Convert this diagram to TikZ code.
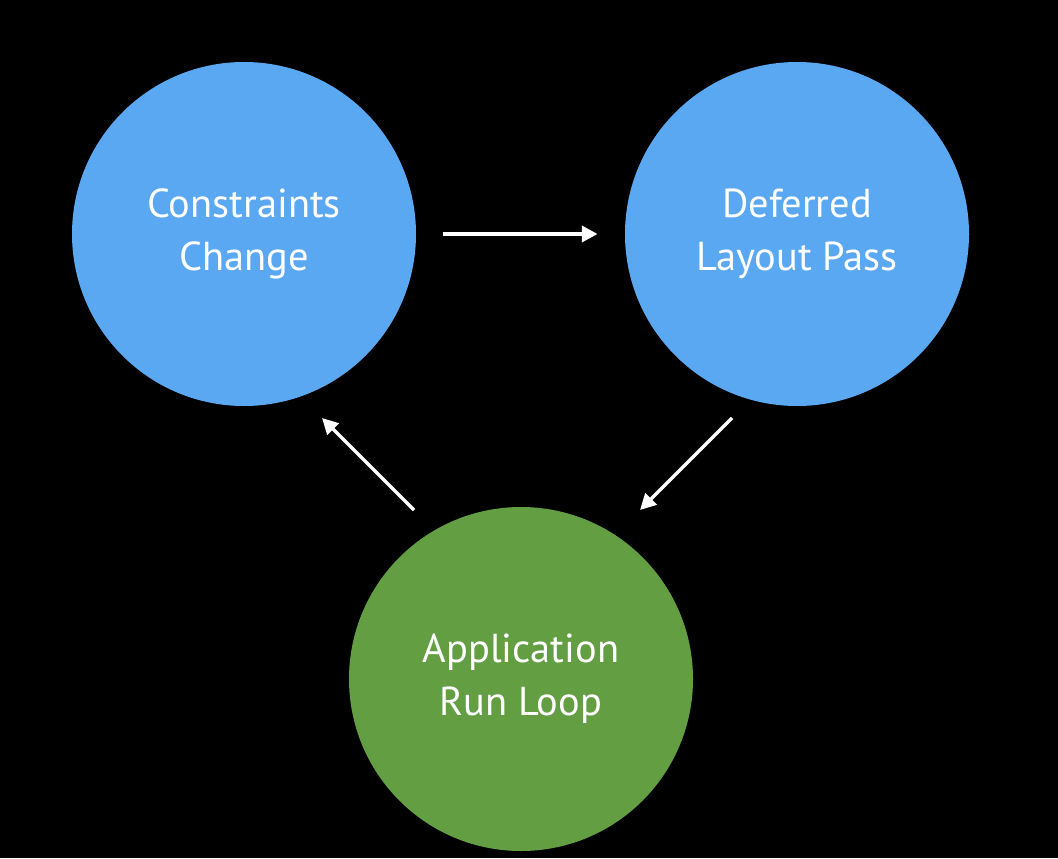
\documentclass[tikz,border=0pt]{standalone}
\usepackage{fontspec}
\setmainfont{PT Sans}
\usetikzlibrary{arrows.meta}
\definecolor{stepblue}{HTML}{5AA8F1}
\definecolor{loopgreen}{HTML}{639E43}
\tikzset{
	bubble/.style={circle, minimum size=6.88cm, inner sep=0pt, text=white, align=center,
		font=\fontsize{23}{30}\selectfont},
	flow/.style={white, line width=2.6pt, -{Triangle[length=9pt,width=9pt]}}
}

\begin{document}
\begin{tikzpicture}
	\fill[black] (0,0) rectangle (21.16,17.16);
	\node[bubble, fill=stepblue] (c) at (4.88,12.48) {Constraints\\Change};
	\node[bubble, fill=stepblue] (d) at (15.94,12.48) {Deferred\\Layout Pass};
	\node[bubble, fill=loopgreen] (a) at (10.42,3.58) {Application\\Run Loop};
	\coordinate (d1) at (14.64,8.80);
	\coordinate (d2) at (12.80,6.96);
	\coordinate (a1) at (8.28,6.96);
	\coordinate (a2) at (6.44,8.80);
	\draw[flow, shorten <=0.54cm, shorten >=0.54cm] (c.east) -- (d.west);
	\draw[flow, line width=2pt] (d1) -- (d2);
	\draw[flow, line width=2pt] (a1) -- (a2);
\end{tikzpicture}
\end{document}
